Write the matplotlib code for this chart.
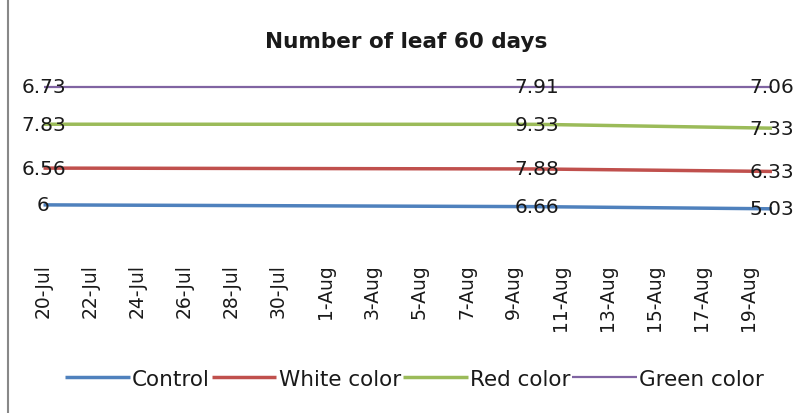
import numpy as np
import pandas as pd
import matplotlib
matplotlib.use("Agg")
import matplotlib.pyplot as plt
import matplotlib.dates as mdates
from matplotlib.lines import Line2D

dates = pd.to_datetime(["2013-07-20", "2013-08-10", "2013-08-20"])
control = [6, 6.66, 5.03]
white = [6.56, 7.88, 6.33]
red = [7.83, 9.33, 7.33]
green = [6.73, 7.91, 7.06]
names = ["Control", "White color", "Red color", "Green color"]
colors = ["#4F81BD", "#C0504D", "#9BBB59", "#8064A2"]
widths = [2.5, 2.5, 2.5, 1.6]
tick_dates = pd.date_range("2013-07-20", "2013-08-19", freq="2D")

# 100% stacked line, as in the excel chart
vals = np.array([control, white, red, green])
cum = np.cumsum(vals, axis=0) / vals.sum(axis=0)

fig = plt.figure(figsize=(8.05, 4.14), dpi=100)
# 0 -> y=239.5px, 1 -> y=87.5px ; ylim -0.1..1.1
ax = fig.add_axes([20 / 805, 1 - (239.5 + 15.2) / 414, 775.5 / 805, 1.2 * 152 / 414])

for i in range(4):
    ax.plot(dates, cum[i], color=colors[i], lw=widths[i], label=names[i],
            solid_capstyle="butt")
    for d, c, v in zip(dates, cum[i], vals[i]):
        ax.text(d, c, f"{v:g}", ha="center", va="center", fontsize=14.5,
                color="#1a1a1a")

x0 = mdates.date2num(pd.Timestamp("2013-07-20"))
ax.set_xlim(x0 - 1, x0 + 32)
ax.set_ylim(-0.1, 1.1)
ax.set_yticks([])
ax.set_xticks(tick_dates)
ax.set_xticklabels([f"{d.day}-{d.strftime('%b')}" for d in tick_dates],
                   rotation=90, fontsize=13.5, color="#1a1a1a")
ax.tick_params(axis="x", length=0, pad=7)
for s in ax.spines.values():
    s.set_visible(False)

fig.suptitle("Number of leaf 60 days", x=0.505, y=1 - 42 / 414, va="center",
             fontsize=15.5, fontweight="bold", color="#1a1a1a")

fig.legend(loc="center", bbox_to_anchor=(0.515, 1 - 380 / 414), ncol=4,
           frameon=False, fontsize=15.5, handlelength=3.0, handletextpad=0.1,
           columnspacing=0.1, labelcolor="#1a1a1a")

# chart border at the left edge
fig.add_artist(Line2D([7.5 / 805, 7.5 / 805], [0, 1], color="#888888", lw=1.5))

fig.savefig("out.png", dpi=100)
